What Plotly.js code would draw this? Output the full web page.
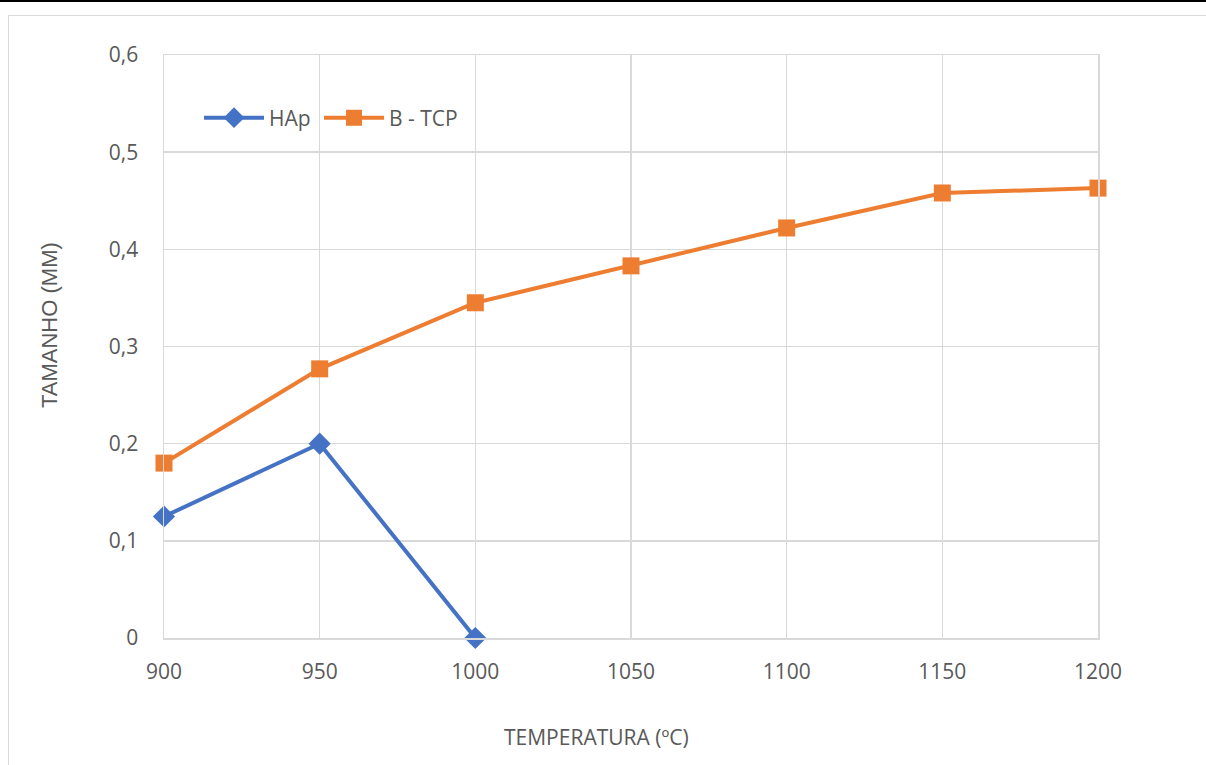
<!DOCTYPE html>
<html>
<head>
<meta charset="utf-8">
<script src="https://cdn.plot.ly/plotly-3.0.1.min.js"></script>
<style>
  html, body { margin: 0; padding: 0; background: #fff; }
  #wrap { position: relative; width: 1206px; height: 765px; overflow: hidden; }
  #topline { position: absolute; left: 0; top: 0; width: 1206px; height: 2px; background: #000; z-index: 2; }
  #frame { position: absolute; left: 8px; top: 15px; width: 1220px; height: 800px; border: 1.5px solid #d9d9d9; box-sizing: border-box; z-index: 2; pointer-events: none; }
  #chart { position: absolute; left: 0; top: 0; width: 1206px; height: 765px; }
</style>
</head>
<body>
<div id="wrap">
  <div id="chart"></div>
  <div id="topline"></div>
  <div id="frame"></div>
</div>
<script>
// Data
const temperatures = [900, 950, 1000, 1050, 1100, 1150, 1200];
const hapTemps = [900, 950, 1000];
const hapValues = [0.125, 0.2, 0.0];
const tcpValues = [0.18, 0.277, 0.345, 0.383, 0.422, 0.458, 0.463];
const yTickVals = [0, 0.1, 0.2, 0.3, 0.4, 0.5, 0.6];
const yTickText = ['0', '0,1', '0,2', '0,3', '0,4', '0,5', '0,6'];
const seriesNames = ['HAp', 'B - TCP'];
const xTitle = 'TEMPERATURA (ºC)';
const yTitle = 'TAMANHO (MM)';

const tickFont = { family: 'Open Sans, sans-serif', size: 21, color: '#595959' };
const legendFont = { family: 'Open Sans, sans-serif', size: 21, color: '#595959' };

const traces = [
  {
    x: hapTemps, y: hapValues, name: seriesNames[0], type: 'scatter', mode: 'lines+markers',
    line: { color: '#4472c4', width: 4 }, cliponaxis: false, legend: 'legend',
    marker: { symbol: 'diamond', size: 17, color: '#4472c4' }
  },
  {
    x: temperatures, y: tcpValues, name: seriesNames[1], type: 'scatter', mode: 'lines+markers',
    line: { color: '#ed7d31', width: 4 }, cliponaxis: false, legend: 'legend2',
    marker: { symbol: 'square', size: 17, color: '#ed7d31' }
  }
];

const layout = {
  width: 1206, height: 765,
  margin: { l: 164, r: 108, t: 55, b: 127 },
  paper_bgcolor: '#fff', plot_bgcolor: '#fff',
  showlegend: true,
  legend: {
    orientation: 'h', x: 0.0375, y: (638 - 118) / 583, xanchor: 'left', yanchor: 'middle',
    font: legendFont, bgcolor: 'rgba(0,0,0,0)', itemwidth: 60
  },
  legend2: {
    orientation: 'h', x: 0.0375 + 120 / 934, y: (638 - 118) / 583, xanchor: 'left', yanchor: 'middle',
    font: legendFont, bgcolor: 'rgba(0,0,0,0)', itemwidth: 60
  },
  xaxis: {
    range: [900, 1200], tickvals: temperatures, ticktext: temperatures.map(String),
    showgrid: true, gridcolor: '#d9d9d9', gridwidth: 1.5,
    showline: true, linecolor: '#d9d9d9', linewidth: 1.5, mirror: true,
    zeroline: false, ticks: '', ticklabelstandoff: 14, tickfont: tickFont, fixedrange: true
  },
  yaxis: {
    range: [0, 0.6], tickvals: yTickVals, ticktext: yTickText,
    showgrid: true, gridcolor: '#d9d9d9', gridwidth: 1.5,
    showline: true, linecolor: '#d9d9d9', linewidth: 1.5, mirror: true,
    zeroline: false, ticks: '', ticklabelstandoff: 20, tickfont: tickFont, fixedrange: true
  },
  annotations: [
    { text: xTitle, xref: 'paper', yref: 'paper', x: (596 - 164) / 934, y: -(737 - 638) / 583,
      xanchor: 'center', yanchor: 'middle', showarrow: false,
      font: { family: 'Open Sans, sans-serif', size: 21, color: '#595959' } },
    { text: yTitle, xref: 'paper', yref: 'paper', x: -(164 - 49) / 934, y: (638 - 325) / 583,
      xanchor: 'center', yanchor: 'middle', showarrow: false, textangle: -90,
      font: { family: 'Liberation Sans, Arial, sans-serif', size: 22, color: '#595959' } }
  ]
};

Plotly.newPlot('chart', traces, layout, { displayModeBar: false, staticPlot: true });
</script>
</body>
</html>
